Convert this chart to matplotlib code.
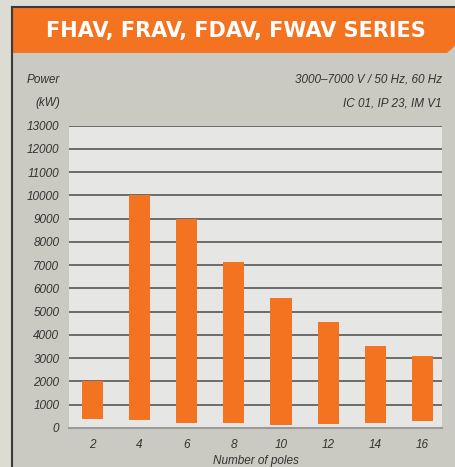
import matplotlib.pyplot as plt
from matplotlib.patches import Polygon, Rectangle
from matplotlib.lines import Line2D

# данные с графика
poles = ['2', '4', '6', '8', '10', '12', '14', '16']
power_min = [400, 350, 230, 230, 140, 190, 230, 310]
power_max = [2000, 10000, 9000, 7130, 5580, 4550, 3520, 3100]
y_ticks = list(range(0, 13001, 1000))

orange = '#f47321'
W, H = 456, 467

def fx(px):
    return px / W

def fy(py):
    return 1 - py / H

fig = plt.figure(figsize=(W / 100, H / 100), dpi=100)
fig.patch.set_facecolor('#dcdcd5')

# панель и рамка
fig.patches.append(Rectangle((fx(12), 0), fx(456) - fx(12), fy(7), transform=fig.transFigure,
                             facecolor='#cbcac2', edgecolor='none', zorder=-5))
fig.add_artist(Line2D([fx(12.5), fx(12.5)], [0, fy(7)], color='#3a3a3a', lw=1.5, transform=fig.transFigure))
fig.add_artist(Line2D([fx(12), 1], [fy(7), fy(7)], color='#3a3a3a', lw=1.5, transform=fig.transFigure))

# оранжевая плашка с заголовком
banner = [(fx(13), fy(7.5)), (1, fy(7.5)), (1, fy(45)), (fx(447), fy(53)), (fx(13), fy(53))]
fig.patches.append(Polygon(banner, closed=True, transform=fig.transFigure,
                           facecolor=orange, edgecolor='none', zorder=1))
fig.text(fx(236), fy(30.5), 'FHAV, FRAV, FDAV, FWAV SERIES', color='white', fontsize=15,
         fontweight='bold', family='DejaVu Sans', ha='center', va='center')

txt = dict(fontsize=8.5, style='italic', family='Liberation Sans', color='#333333')
fig.text(fx(27), fy(80), 'Power', ha='left', va='center', **txt)
fig.text(fx(35), fy(103), '(kW)', ha='left', va='center', **txt)
fig.text(fx(442), fy(80), '3000–7000 V / 50 Hz, 60 Hz', ha='right', va='center', **txt)
fig.text(fx(442), fy(103), 'IC 01, IP 23, IM V1', ha='right', va='center', **txt)

ax = fig.add_axes([fx(69), fy(428), fx(442) - fx(69), fy(125.5) - fy(428)])
ax.set_zorder(3)
ax.set_facecolor('#e6e7e5')
x = list(range(len(poles)))
heights = [hi - lo for lo, hi in zip(power_min, power_max)]
ax.bar(x, heights, bottom=power_min, width=0.445, color=orange, zorder=3)

ax.set_ylim(0, 13000)
ax.set_xlim(-0.49, 7.41)
ax.set_yticks(y_ticks)
ax.set_xticks(x)
ax.set_xticklabels(poles)
ax.yaxis.grid(True, color='#4a4a4a', lw=1.1)
ax.set_axisbelow(True)
for s in ['top', 'right', 'left']:
    ax.spines[s].set_visible(False)
ax.spines['bottom'].set_color('#9a9a9a')
ax.spines['bottom'].set_linewidth(1.5)
ax.tick_params(length=0)
ax.tick_params(axis='y', pad=7)
ax.tick_params(axis='x', pad=8)
for lab in ax.get_xticklabels() + ax.get_yticklabels():
    lab.set_fontsize(8.5)
    lab.set_style('italic')
    lab.set_family('Liberation Sans')
    lab.set_color('#333333')

fig.text(fx(256), fy(461), 'Number of poles', ha='center', va='center', **txt)

plt.savefig('out.png', dpi=100, facecolor=fig.get_facecolor())
